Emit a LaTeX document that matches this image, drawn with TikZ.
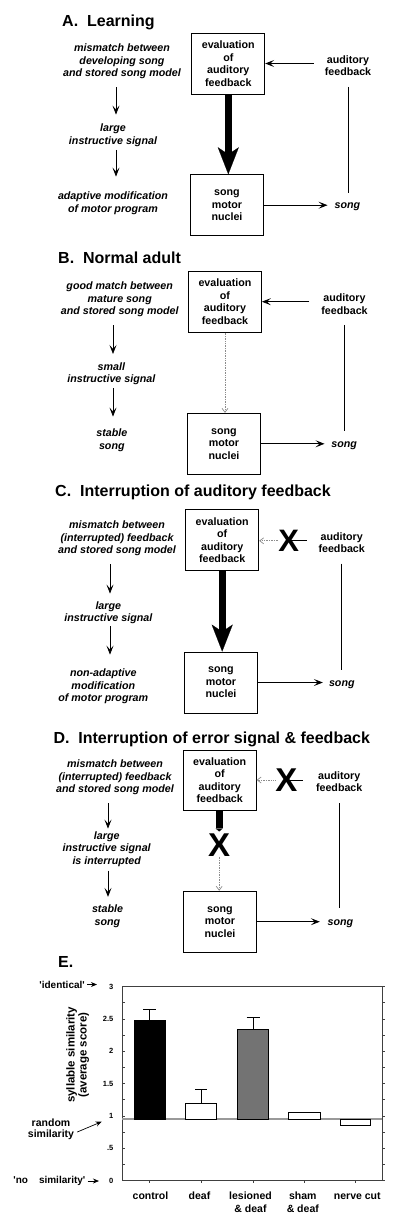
\documentclass[tikz,border=0pt]{standalone}
\usepackage{fontspec}
\setmainfont{Liberation Sans}
\usetikzlibrary{arrows.meta}
\begin{document}
\begin{tikzpicture}[x=1pt,y=-1pt,
  ttl/.style={font=\bfseries\fontsize{16}{18}\selectfont, anchor=base west, inner sep=0pt},
  lbl/.style={font=\bfseries\itshape\fontsize{10.7}{12.5}\selectfont, align=center, inner sep=0pt},
  fbk/.style={font=\bfseries\fontsize{10.7}{12.3}\selectfont, align=center, inner sep=0pt},
  box/.style={draw, line width=0.8pt, minimum width=73pt, minimum height=61pt, align=center, inner sep=0pt, font=\bfseries\fontsize{10.7}{12.5}\selectfont},
  arr/.style={line width=0.75pt, -{Stealth[length=9pt,width=7pt,inset=4pt]}},
  arrs/.style={line width=0.7pt, -{Stealth[length=6pt,width=5pt,inset=2pt]}},
  plain/.style={line width=0.75pt},
  bigarr/.style={line width=7pt, -{Stealth[length=27pt,width=21pt,inset=7pt,line width=0.1pt]}},
  stub/.style={line width=7pt, -{Triangle[length=3pt,width=7pt,line width=0.1pt]}},
  weak/.style={draw=black!45, line width=0.7pt, densely dotted, -{Straight Barb[length=4pt,width=6pt]}},
  xmk/.style={font=\bfseries\fontsize{31}{31}\selectfont, inner sep=0pt},
  xmkb/.style={font=\bfseries\fontsize{33}{33}\selectfont, inner sep=0pt},
  frm/.style={draw=black!75, line width=0.6pt},
  bar/.style={draw=black, line width=0.8pt},
  tick/.style={font=\bfseries\fontsize{7.5}{8}\selectfont, inner sep=0pt, anchor=east},
  plab/.style={font=\bfseries\fontsize{10}{11}\selectfont, inner sep=0pt},
  rlab/.style={font=\bfseries\fontsize{10.5}{10.8}\selectfont, align=center, inner sep=0pt},
  cat/.style={font=\bfseries\fontsize{10.5}{12.6}\selectfont, align=center, inner sep=0pt, anchor=north},
  ylab/.style={font=\bfseries\fontsize{11.5}{12}\selectfont, align=center, inner sep=0pt, rotate=90}
]
\useasboundingbox (0,0) rectangle (400,1223);

% ---------------- Panel A ----------------
\node[ttl] (tA) at (62,27) {A.~~Learning};
\node[lbl] (mA) at (122,61.5) {mismatch between\\developing song\\and stored song model};
\node[lbl] (lA) at (113,135) {large\\instructive signal};
\node[lbl] (pA) at (113,203) {adaptive modification\\of motor program};
\node[box] (evA) at (228.3,63.5) {evaluation\\of\\auditory\\feedback};
\node[box] (smA) at (227,205.2) {song\\motor\\nuclei};
\node[fbk] (afA) at (348,66) {auditory\\feedback};
\node[lbl] (sgA) at (347.5,206.7) {song};
\coordinate (cA) at (116,0);
\draw[arr, shorten <=8pt, shorten >=9pt] (mA.south -| cA) -- (lA.north -| cA);
\draw[arr, shorten <=3.5pt, shorten >=15pt] (lA.south -| cA) -- (pA.north -| cA);
\draw[bigarr] (evA.south) -- (evA.south |- smA.north);
\draw[arr, shorten <=11pt] (afA.west |- evA.east) -- (evA.east);
\draw[plain, shorten <=10.5pt, shorten >=10pt] (afA.south) -- (afA.south |- sgA.north);
\draw[arr, shorten >=7pt] (smA.east) -- (smA.east -| sgA.west);

% ---------------- Panel B ----------------
\node[ttl] (tB) at (58,263) {B.~~Normal adult};
\node[lbl] (mB) at (119.7,299.5) {good match between\\mature song\\and stored song model};
\node[lbl] (lB) at (111.3,373.8) {small\\instructive signal};
\node[lbl] (sB) at (111.8,440.3) {stable\\song};
\node[box] (evB) at (225,301.7) {evaluation\\of\\auditory\\feedback};
\node[box] (smB) at (224,443.8) {song\\motor\\nuclei};
\node[fbk] (afB) at (344.5,304.2) {auditory\\feedback};
\node[lbl] (sgB) at (344.2,445.3) {song};
\coordinate (cB) at (113,0);
\draw[arr, shorten <=8.3pt, shorten >=8.4pt] (mB.south -| cB) -- (lB.north -| cB);
\draw[arr, shorten <=3.2pt, shorten >=12.3pt] (lB.south -| cB) -- (sB.north -| cB);
\draw[weak] (evB.south) -- (evB.south |- smB.north);
\draw[arr, shorten <=11.8pt] (afB.west |- evB.east) -- (evB.east);
\draw[plain, shorten <=10.5pt, shorten >=9.8pt] (afB.south) -- (afB.south |- sgB.north);
\draw[arr, shorten >=6.7pt] (smB.east) -- (smB.east -| sgB.west);

% ---------------- Panel C ----------------
\node[ttl] (tC) at (55,496) {C.~~Interruption of auditory feedback};
\node[lbl] (mC) at (117,538.4) {mismatch between\\(interrupted) feedback\\and stored song model};
\node[lbl] (lC) at (108.3,612.7) {large\\instructive signal};
\node[lbl] (pC) at (103.3,686.3) {non-adaptive\\modification\\of motor program};
\node[box] (evC) at (222.2,540.3) {evaluation\\of\\auditory\\feedback};
\node[box] (smC) at (221,682.5) {song\\motor\\nuclei};
\node[xmk] (xC) at (288.7,540.8) {X};
\coordinate (xCe) at (306.7,540.8);
\node[fbk] (afC) at (341.7,542.8) {auditory\\feedback};
\node[lbl] (sgC) at (341.8,684.3) {song};
\coordinate (cC) at (110,0);
\draw[arr, shorten <=8.2pt, shorten >=7.7pt] (mC.south -| cC) -- (lC.north -| cC);
\draw[arr, shorten <=2.3pt, shorten >=14pt] (lC.south -| cC) -- (pC.north -| cC);
\draw[bigarr] (evC.south) -- (evC.south |- smC.north);
\draw[plain] (xC.center) -- (xCe);
\draw[weak] (xC.west) -- (xC.west -| evC.east);
\draw[plain, shorten <=10.5pt, shorten >=10.5pt] (afC.south) -- (afC.south |- sgC.north);
\draw[arr, shorten >=6pt] (smC.east) -- (smC.east -| sgC.west);

% ---------------- Panel D ----------------
\node[ttl] (tD) at (53.3,743) {D.~~Interruption of error signal \& feedback};
\node[lbl] (mD) at (115,777.5) {mismatch between\\(interrupted) feedback\\and stored song model};
\node[lbl] (lD) at (106.7,849) {large\\instructive signal\\is interrupted};
\node[lbl] (sD) at (107.5,916) {stable\\song};
\node[box, minimum height=60pt] (evD) at (219.7,780) {evaluation\\of\\auditory\\feedback};
\node[box] (smD) at (220,921.7) {song\\motor\\nuclei};
\node[xmkb] (xDr) at (286.5,780) {X};
\node[xmkb] (xDv) at (219.2,845) {X};
\coordinate (xDe) at (303.3,780);
\node[fbk] (afD) at (339.2,781.7) {auditory\\feedback};
\node[lbl] (sgD) at (340.5,923.3) {song};
\coordinate (cD) at (108,0);
\draw[arr, shorten <=8.2pt, shorten >=2.7pt] (mD.south -| cD) -- (lD.north -| cD);
\draw[arr, shorten <=3.9pt, shorten >=7.7pt] (lD.south -| cD) -- (sD.north -| cD);
\draw[stub, shorten >=2pt] (evD.south -| xDv.north) -- (xDv.north);
\draw[weak] (xDv.south) -- (xDv.south |- smD.north);
\draw[plain] (xDr.center) -- (xDe);
\draw[weak] (xDr.west) -- (xDr.west -| evD.east);
\draw[plain, shorten <=11.2pt, shorten >=11.2pt] (afD.south) -- (afD.south |- sgD.north);
\draw[arr, shorten >=7.7pt] (smD.east) -- (smD.east -| sgD.west);

% ---------------- Panel E ----------------
\node[ttl] (tE) at (58,967) {E.};
\draw[frm] (122,986.5) rectangle (382,1180.5);
\foreach \k in {0,...,12} {
  \draw[frm] (122,{1180.5-16.1667*\k}) -- ++(2.5,0);
  \draw[frm] (382,{1180.5-16.1667*\k}) -- ++(2.5,0);
}
\foreach \x in {149,201,253,304,355} \draw[frm] (\x,1180.5) -- ++(0,2.5);
\foreach \v/\t/\n in {0/0/0, 0.5/.5/1, 1/1/2, 1.5/1.5/3, 2/2/4, 2.5/2.5/5, 3/3/6}
  \node[tick] (yl\n) at (113.5,{1180.5-64.67*\v}) {\t};
\draw[draw=black!40, line width=1.1pt] (122,1119) -- (382,1119);
% bars
\draw[bar, fill=black] (134.3,1119) rectangle (165,1020.7);
\draw[bar] (149.6,1020.7) -- (149.6,1009.3) (143,1009.3) -- (156.2,1009.3);
\draw[bar, fill=white] (185,1119) rectangle (216.7,1103);
\draw[bar] (201,1103) -- (201,1089.3) (195,1089.3) -- (207,1089.3);
\draw[bar, fill=black!55] (237.3,1119) rectangle (268.7,1029.3);
\draw[bar] (253,1029.3) -- (253,1017.7) (246.5,1017.7) -- (259.5,1017.7);
\draw[bar, fill=white] (288.3,1119) rectangle (320,1112.3);
\draw[bar, fill=white] (340,1119) rectangle (370.7,1125.7);
% labels
\node[ylab] (ytl) at (77.6,1055) {syllable similarity\\(average score)};
\node[plab, anchor=east] (iden) at (85,984.5) {\textquotesingle identical\textquotesingle};
\draw[arrs, shorten <=2pt, shorten >=12pt] (iden.east) -- (iden.east -| yl6.west);
\node[rlab] (rand) at (51,1129.5) {random\\similarity};
\coordinate (randtip) at (101.7,1121.7);
\draw[arrs] ([shift={(3pt,-2.5pt)}]rand.east) -- (randtip);
\node[plab, anchor=east] (nosim) at (85.5,1181) {\textquotesingle no\hspace{11pt}similarity\textquotesingle};
\draw[arrs, shorten <=2pt, shorten >=10pt] (nosim.east) -- (nosim.east -| yl0.west);
\node[cat] (k1) at (150.5,1192) {control};
\node[cat] (k2) at (199.5,1192) {deaf};
\node[cat] (k3) at (250.5,1192) {lesioned\\\& deaf};
\node[cat] (k4) at (302.8,1192) {sham\\\& deaf};
\node[cat] (k5) at (357.3,1192) {nerve cut};
\end{tikzpicture}
\end{document}
